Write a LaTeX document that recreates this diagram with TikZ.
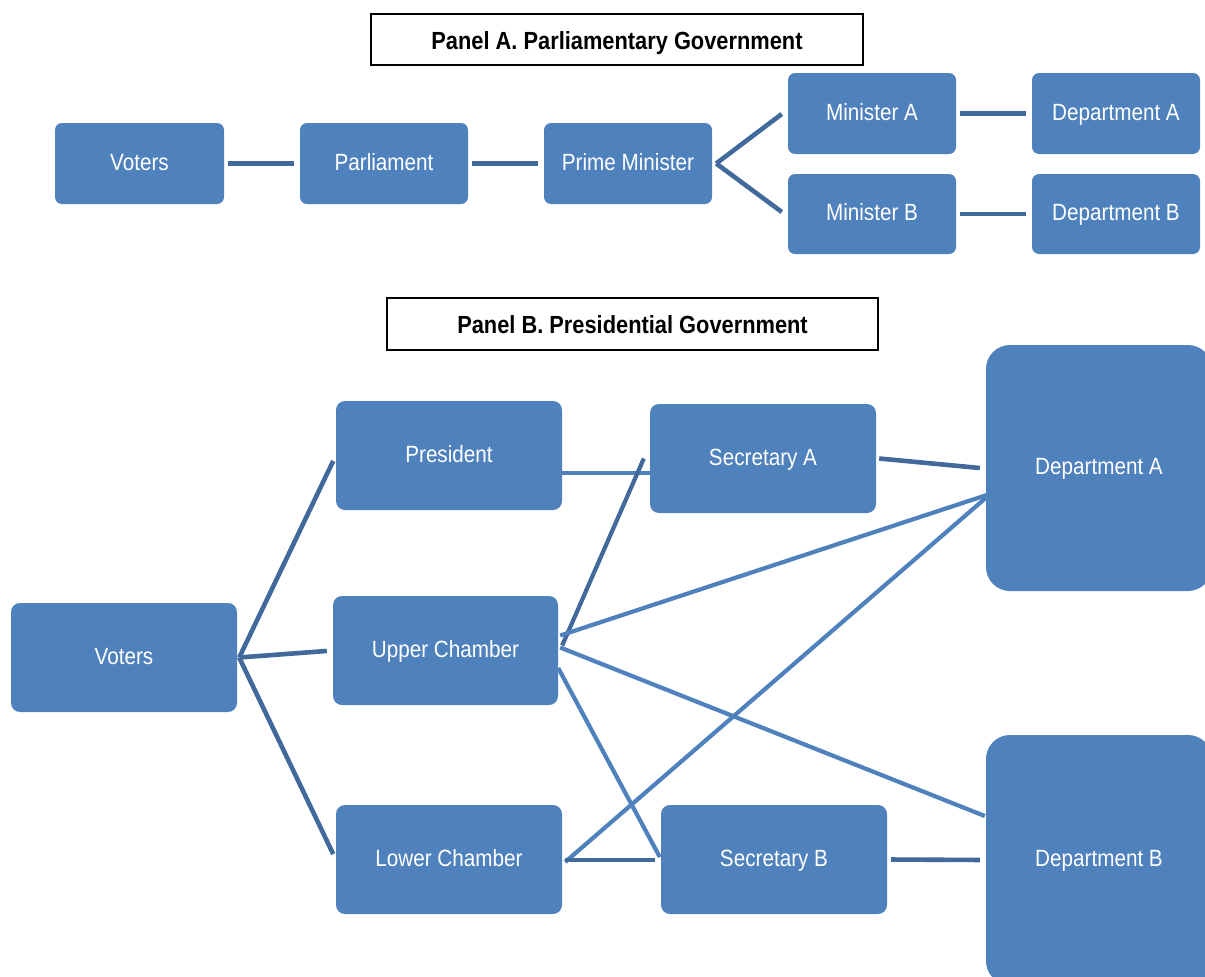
\documentclass[tikz,border=0pt]{standalone}
\usepackage{fontspec}
\setmainfont{Liberation Sans}[FakeStretch=0.88]
\usetikzlibrary{calc}
\definecolor{boxblue}{HTML}{4F81BD}
\definecolor{linkdark}{HTML}{41699C}
\definecolor{linklight}{HTML}{4F81BD}
\tikzset{
  unit/.style={fill=boxblue, rounded corners=7pt, text=white, font=\fontsize{23.5}{26}\selectfont,
    inner sep=0pt, text height=13pt, text depth=0pt, anchor=center},
  bigunit/.style={unit, rounded corners=24pt},
  paneltitle/.style={draw=black, line width=1.3pt, fill=white, font=\fontsize{24.8}{28}\selectfont\bfseries,
    inner sep=0pt, text height=19pt, text depth=0pt, anchor=center},
  darklink/.style={draw=linkdark, line width=4.6pt},
  lightlink/.style={draw=linklight, line width=4.2pt},
}
\begin{document}
\begin{tikzpicture}[x=1pt, y=-1pt]
\useasboundingbox (0,0) rectangle (1205,977);
\clip (0,0) rectangle (1205,977);

% ---------- Panel A: parliamentary chain ----------
\node[paneltitle, minimum width=492pt, minimum height=51pt] (titleA) at (617,39.5) {Panel A. Parliamentary Government};

\node[unit, minimum width=169pt, minimum height=81pt] (votersA) at (139.5,163.5) {Voters};
\node[unit, minimum width=168pt, minimum height=81pt] (parl) at (384,163.5) {Parliament};
\node[unit, minimum width=168pt, minimum height=81pt] (pm) at (628,163.5) {Prime Minister};
\node[unit, minimum width=168pt, minimum height=81pt] (minA) at (872,113.5) {Minister A};
\node[unit, minimum width=168pt, minimum height=81pt] (depA1) at (1116,113.5) {Department A};
\node[unit, minimum width=168pt, minimum height=80pt] (minB) at (872,214) {Minister B};
\node[unit, minimum width=168pt, minimum height=80pt] (depB1) at (1116,214) {Department B};

\draw[darklink, shorten <=4pt, shorten >=6pt] (votersA.east) -- (parl.west);
\draw[darklink, shorten <=4pt, shorten >=6pt] (parl.east) -- (pm.west);
\draw[darklink] ($(pm.east)+(4,0)$) -- ($(minA.west)+(-6,0.5)$);
\draw[darklink] ($(pm.east)+(4,0)$) -- ($(minB.west)+(-6,-2)$);
\draw[darklink, shorten <=4pt, shorten >=6pt] (minA.east) -- (depA1.west);
\draw[darklink, shorten <=4pt, shorten >=6pt] (minB.east) -- (depB1.west);

% ---------- Panel B: presidential system ----------
\node[paneltitle, minimum width=491pt, minimum height=52pt] (titleB) at (632.5,324) {Panel B. Presidential Government};

\node[unit, rounded corners=9pt, minimum width=226pt, minimum height=109pt] (votersB) at (124,657.5) {Voters};
\node[unit, rounded corners=9pt, minimum width=226pt, minimum height=109pt] (pres) at (449,455.5) {President};
\node[unit, rounded corners=9pt, minimum width=225pt, minimum height=109pt] (upper) at (445.5,650.5) {Upper Chamber};
\node[unit, rounded corners=9pt, minimum width=226pt, minimum height=109pt] (lower) at (449,859.5) {Lower Chamber};
\node[unit, rounded corners=9pt, minimum width=226pt, minimum height=109pt] (secA) at (763,458.5) {Secretary A};
\node[unit, rounded corners=9pt, minimum width=226pt, minimum height=109pt] (secB) at (774,859.5) {Secretary B};
\node[bigunit, minimum width=226pt, minimum height=246pt] (depA2) at (1099,468) {Department A};
\node[bigunit, minimum width=226pt, minimum height=250pt] (depB2) at (1099,860) {Department B};

% voters to the three elected bodies
\draw[darklink, shorten >=6pt] ($(votersB.east)+(2,0)$) -- (pres.west);
\draw[darklink, shorten >=6pt] ($(votersB.east)+(2,0)$) -- (upper.west);
\draw[darklink, shorten >=6pt] ($(votersB.east)+(2,0)$) -- (lower.west);

% links among the branches
\draw[lightlink] ($(pres.east)+(0,17.5)$) -- ($(secA.west)+(0,14.5)$);
\draw[darklink, line width=4.2pt] ($(upper.east)+(4,-5)$) -- ($(secA.west)+(-6,0)$);
\draw[lightlink] ($(upper.east)+(2,-15)$) -- ($(depA2.west)+(1,27)$);
\draw[lightlink] ($(lower.east)+(3,2.5)$) -- ($(depA2.west)+(1,29)$);
\draw[lightlink] ($(upper.east)+(2,-3)$) -- ($(depB2.west)+(-1,-44)$);
\draw[lightlink] ($(upper.east)+(0,17.5)$) -- ($(secB.west)+(-1,-2.5)$);
\draw[darklink] ($(lower.east)+(3,0.5)$) -- ($(secB.west)+(-6,0.5)$);
\draw[darklink] ($(secA.east)+(3,0)$) -- ($(depA2.west)+(-6,0)$);
\draw[darklink, shorten <=4pt, shorten >=6pt] (secB.east) -- (depB2.west);
\end{tikzpicture}
\end{document}
